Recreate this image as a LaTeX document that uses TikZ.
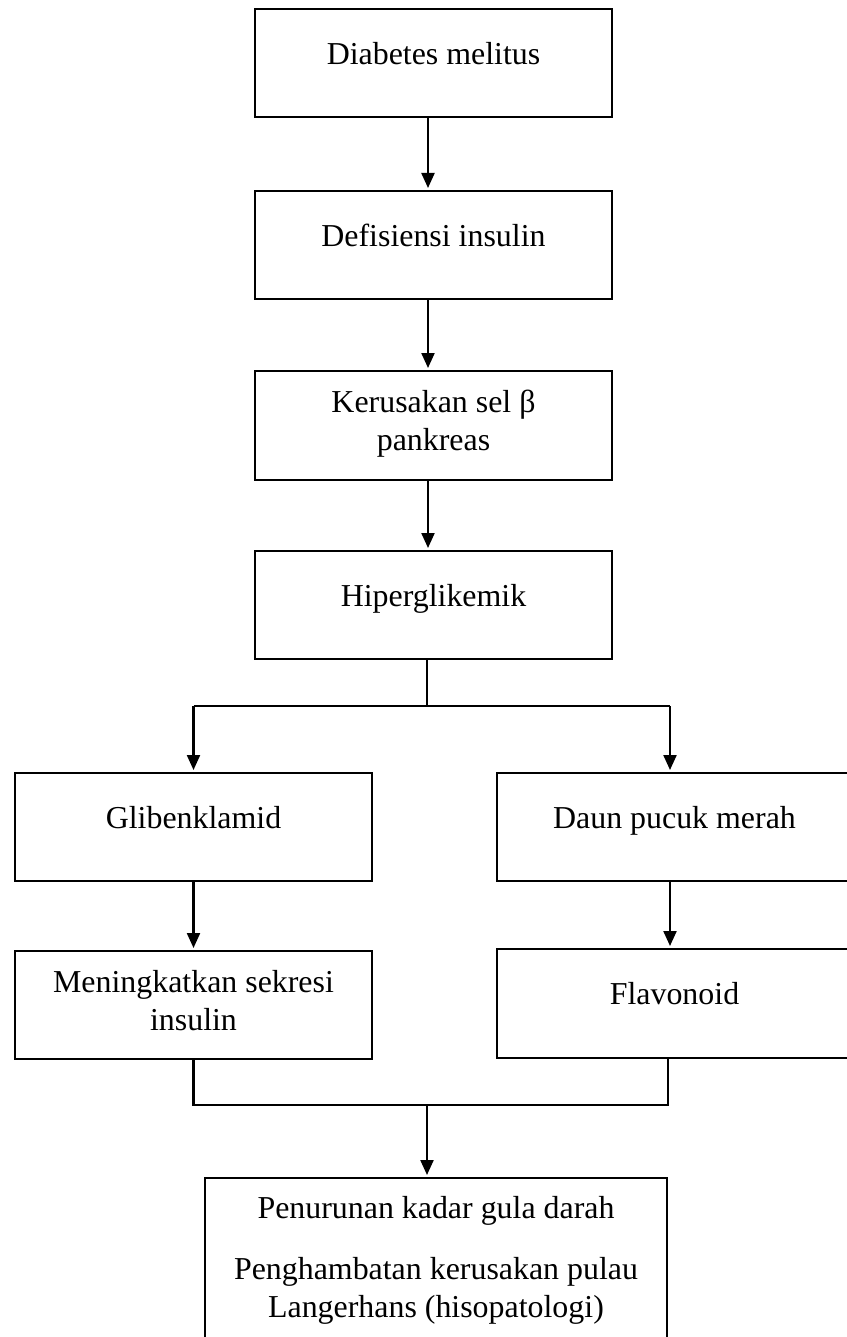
\documentclass[tikz,border=0pt]{standalone}
\usepackage{fontspec}
\setmainfont{Liberation Serif}
\usetikzlibrary{arrows.meta}
\begin{document}
\begin{tikzpicture}[x=1pt,y=-1pt,
  box/.style={draw, line width=2.2pt, rectangle, inner sep=0pt, anchor=north,
    align=center, font=\fontsize{31.9}{38}\selectfont},
  onel/.style={text height=55pt, text depth=53pt},
  twol/.style={text height=79.7pt, text depth=29.3pt},
  wide/.style={minimum width=357pt},
  ln/.style={line width=2.2pt},
  arr/.style={line width=2.2pt, -{Triangle[length=15pt,width=13pt]}, shorten >=2pt}]
\useasboundingbox (0,0) rectangle (846,1337);
\node[box,onel,wide] (b1) at (433.5,8) {Diabetes melitus};
\node[box,onel,wide] (b2) at (433.5,190) {Defisiensi insulin};
\node[box,twol,wide] (b3) at (433.5,370) {Kerusakan sel β\\pankreas};
\node[box,onel,wide] (b4) at (433.5,550) {Hiperglikemik};
\node[box,onel,wide] (b5) at (193.5,772) {Glibenklamid};
\node[box,onel,minimum width=355pt] (b6) at (674.5,772) {Daun pucuk merah};
\node[box,twol,wide,text depth=28.3pt] (b7) at (193.5,950) {Meningkatkan sekresi\\insulin};
\node[box,onel,minimum width=355pt,text depth=54pt] (b8) at (674.5,948) {Flavonoid};
\node[box,minimum width=462pt,text height=139.7pt,text depth=100pt] (b9) at (436,1177)
  {Penurunan kadar gula darah\\[23pt]Penghambatan kerusakan pulau\\Langerhans (hisopatologi)};
\draw[arr] ([xshift=-5.5pt]b1.south) -- ([xshift=-5.5pt]b2.north);
\draw[arr] ([xshift=-5.5pt]b2.south) -- ([xshift=-5.5pt]b3.north);
\draw[arr] ([xshift=-5.5pt]b3.south) -- ([xshift=-5.5pt]b4.north);
\coordinate (split) at (427,706);
\coordinate (sl) at (193.5,706);
\coordinate (sr) at (670,706);
\draw[ln] ([xshift=-6.5pt]b4.south) -- (split);
\draw[ln] (sl) -- (sr);
\draw[arr] (sl) -- (sl |- b5.north);
\draw[arr] (sr) -- (sr |- b6.north);
\draw[arr] (b5.south) -- (b7.north);
\draw[arr] ([xshift=-4.5pt]b6.south) -- ([xshift=-4.5pt]b8.north);
\coordinate (mr) at (668,1105);
\coordinate (mc) at (427,1105);
\draw[ln] (b7.south) |- (mr) -- (mr |- b8.south);
\draw[arr] (mc) -- (mc |- b9.north);
\end{tikzpicture}
\end{document}
